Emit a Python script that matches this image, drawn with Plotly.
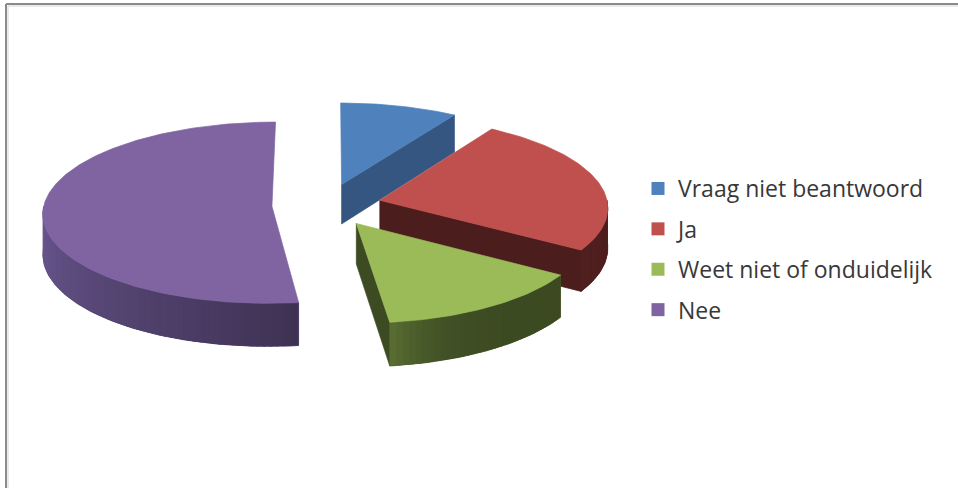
import numpy as np
import plotly.graph_objects as go

# ---- data -------------------------------------------------------------
labels = ["Vraag niet beantwoord", "Ja", "Weet niet of onduidelijk", "Nee"]
values = [9, 25, 14, 52]

# ---- style ------------------------------------------------------------
top_colors = ["#4F81BD", "#C0504D", "#9BBB59", "#8064A2"]
# outer wall colour at start / end of its visible arc, radial wall colour, gradient power
wall_styles = [
    ("#37598A", "#37598A", "#345680", 1.0),
    ("#4C1D1D", "#501F1F", "#4C1D1D", 1.0),
    ("#3C4A22", "#5A6F33", "#3D4B22", 5.0),
    ("#3E3253", "#6C5893", "#3E3253", 1.0),
]
draw_order = [0, 1, 3, 2]          # back to front

W, H = 958, 488
CX, CY = 326.6, 205.0              # pie centre (pixels)
RX, RY = 228.0, 90.0               # radii of the top ellipse
DEPTH = 40.0                       # thickness of the pie
PERSP = 0.07                       # mild perspective (front larger than back)
EXPLODE = 0.24                     # slice offset, in radius units


def project(u, v, z):
    """u: right, v: back, z: 0 top / 1 bottom -> screen pixels."""
    s = 1.0 / (1.0 + PERSP * v)
    return CX + RX * u * s, CY - RY * v * s + DEPTH * z * s


def hex_to_rgb(h):
    h = h.lstrip("#")
    return np.array([int(h[i:i + 2], 16) for i in (0, 2, 4)], dtype=float)


def mix(c1, c2, t):
    c = hex_to_rgb(c1) * (1 - t) + hex_to_rgb(c2) * t
    return "rgb(%d,%d,%d)" % tuple(np.round(c))


def poly(pts, color, line_w=0.7):
    xs = [p[0] for p in pts] + [pts[0][0]]
    ys = [p[1] for p in pts] + [pts[0][1]]
    return go.Scatter(
        x=xs, y=ys, mode="lines", fill="toself", fillcolor=color,
        line=dict(color=color, width=line_w),
        hoverinfo="skip", showlegend=False,
    )


total = float(sum(values))
bounds = np.concatenate([[0.0], np.cumsum(values) / total]) * 2 * np.pi

fig = go.Figure()

for i in draw_order:
    t1, t2 = bounds[i], bounds[i + 1]
    mid = 0.5 * (t1 + t2)
    du, dv = EXPLODE * np.sin(mid), EXPLODE * np.cos(mid)
    c_start, c_end, c_radial, gpow = wall_styles[i]

    def rim(t, z):
        return project(du + np.sin(t), dv + np.cos(t), z)

    def centre(z):
        return project(du, dv, z)

    # radial walls facing the viewer
    for t, visible in ((t2, np.sin(t2) > 0.01), (t1, np.sin(t1) < -0.01)):
        if visible:
            fig.add_trace(poly([centre(0), rim(t, 0), rim(t, 1), centre(1)], c_radial))

    # curved outer wall (front half only), shaded along the arc
    a0, a1 = max(t1, np.pi / 2), min(t2, 3 * np.pi / 2)
    if a1 > a0:
        ts = np.linspace(a0, a1, max(8, int(np.degrees(a1 - a0))))
        backing = [rim(t, 0) for t in ts] + [rim(t, 1) for t in ts[::-1]]
        fig.add_trace(poly(backing, mix(c_start, c_end, 0.5), line_w=0.8))
        n = max(2, int(np.degrees(a1 - a0) / 1.5))
        ts = np.linspace(a0, a1, n + 1)
        step = ts[1] - ts[0]
        for k in range(n):
            ta, tb = ts[k], min(ts[k + 1] + 0.6 * step, a1)
            frac = ((ts[k] + 0.5 * step) - a0) / (a1 - a0)
            col = mix(c_start, c_end, frac ** gpow)
            fig.add_trace(poly([rim(ta, 0), rim(tb, 0), rim(tb, 1), rim(ta, 1)], col, line_w=0))

    # top face
    ts = np.linspace(t1, t2, max(8, int(np.degrees(t2 - t1))))
    fig.add_trace(poly([centre(0)] + [rim(t, 0) for t in ts], top_colors[i]))

# legend entries
for i, lab in enumerate(labels):
    fig.add_trace(go.Scatter(
        x=[None], y=[None], mode="markers", name=lab,
        marker=dict(symbol="square", size=13, color=top_colors[i]),
        legendgroup=lab, showlegend=True, hoverinfo="skip",
    ))

# chart frame (left and top border)
fig.add_shape(type="line", x0=6, x1=6, y0=4, y1=H, xref="x", yref="y",
              line=dict(color="#8a8a8a", width=2))
fig.add_shape(type="line", x0=6, x1=W, y0=4, y1=4, xref="x", yref="y",
              line=dict(color="#8a8a8a", width=2))
fig.add_shape(type="line", x0=8, x1=8, y0=6, y1=H, xref="x", yref="y",
              line=dict(color="#d6d6d6", width=1))
fig.add_shape(type="line", x0=8, x1=W, y0=6, y1=6, xref="x", yref="y",
              line=dict(color="#d6d6d6", width=1))

fig.update_layout(
    width=W, height=H,
    margin=dict(l=0, r=0, t=0, b=0),
    paper_bgcolor="white", plot_bgcolor="white",
    xaxis=dict(range=[0, W], visible=False, fixedrange=True),
    yaxis=dict(range=[H, 0], visible=False, fixedrange=True),
    showlegend=True,
    legend=dict(
        x=638 / W, y=1 - 167 / H, xanchor="left", yanchor="top",
        font=dict(family="Open Sans", size=23, color="#383838"),
        traceorder="grouped", tracegroupgap=7.5,
        bgcolor="rgba(0,0,0,0)", itemwidth=30,
    ),
)

fig.write_html("out.html")
